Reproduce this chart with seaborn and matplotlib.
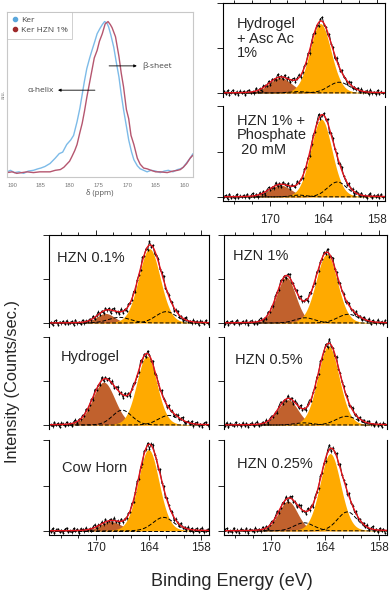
import numpy as np
import matplotlib
matplotlib.use("Agg")
import matplotlib.pyplot as plt
from matplotlib.lines import Line2D
from matplotlib.ticker import FixedLocator
import seaborn as sns

sns.set_style("ticks")
plt.rcParams["font.family"] = ["Liberation Sans", "DejaVu Sans"]

# ---- 13C NMR inset (carbonyl region) ----
ppm_ker = [190.9, 190.3, 189.6, 188.8, 188.0, 187.2, 186.3, 185.5, 185.0, 184.3,
           183.4, 182.5, 181.8, 181.2, 180.5, 179.8, 179.3, 178.7, 178.2, 177.8,
           177.4, 177.0, 176.5, 176.1, 175.6, 175.2, 174.7, 174.3, 173.9, 173.5,
           173.2, 172.8, 172.3, 171.9, 171.4, 171.0, 170.6, 170.1, 169.7, 169.2,
           168.8, 168.2, 167.7, 167.1, 166.5, 165.8, 165.0, 164.2, 163.5, 162.8,
           162.0, 161.2, 160.7, 160.2, 159.6, 159.0, 158.5]
au_ker = [0.01, 0.02, 0.005, 0.01, 0.0, 0.015, 0.02, 0.03, 0.035, 0.045,
          0.065, 0.10, 0.13, 0.14, 0.19, 0.22, 0.25, 0.34, 0.43, 0.52,
          0.61, 0.69, 0.76, 0.81, 0.87, 0.92, 0.955, 0.98, 1.0, 0.99,
          0.965, 0.91, 0.83, 0.74, 0.635, 0.52, 0.42, 0.31, 0.22, 0.14,
          0.09, 0.05, 0.03, 0.02, 0.01, 0.02, 0.015, 0.005, 0.015, 0.02,
          0.01, 0.025, 0.03, 0.04, 0.07, 0.10, 0.13]
ppm_hzn = [190.9, 190.0, 189.2, 188.3, 187.4, 186.3, 185.2, 184.3, 183.4, 182.5,
           181.6, 181.0, 180.5, 180.0, 179.6, 179.1, 178.7, 178.2, 177.8, 177.4,
           177.0, 176.6, 176.1, 175.7, 175.2, 174.8, 174.3, 173.8, 173.3, 172.9,
           172.6, 172.0, 171.4, 171.0, 170.6, 170.1, 169.7, 169.3, 168.8, 168.2,
           167.7, 167.1, 166.5, 165.8, 165.0, 164.2, 163.0, 162.0, 161.2, 160.7,
           160.2, 159.6, 159.0, 158.5]
au_hzn = [0.005, 0.01, 0.0, 0.005, 0.01, 0.005, 0.01, 0.01, 0.01, 0.02,
          0.025, 0.04, 0.06, 0.08, 0.11, 0.15, 0.19, 0.27, 0.33, 0.41,
          0.50, 0.58, 0.68, 0.76, 0.81, 0.87, 0.92, 0.985, 1.0, 0.98,
          0.96, 0.90, 0.77, 0.66, 0.57, 0.42, 0.36, 0.25, 0.19, 0.10,
          0.06, 0.035, 0.03, 0.02, 0.01, 0.01, 0.005, 0.015, 0.02, 0.025,
          0.04, 0.065, 0.10, 0.12]
nmr_ticks = [190, 185, 180, 175, 170, 165, 160]

# ---- S 2p XPS fits, one entry per panel ----
panel_names = ["Hydrogel\n+ Asc Ac\n1%", "HZN 1% +\nPhosphate\n 20 mM",
               "HZN 0.1%", "Hydrogel", "Cow Horn",
               "HZN 1%", "HZN 0.5%", "HZN 0.25%"]
# brown filled component
brown_c = [168.8, 168.8, 168.9, 169.1, 168.3, 168.3, 168.1, 168.1]
brown_h = [0.34, 0.26, 0.22, 0.98, 0.21, 1.05, 0.58, 0.66]
brown_w = [3.0, 2.9, 2.4, 3.0, 2.8, 2.5, 2.6, 2.5]
# dashed component between the two filled peaks
mid_c = [166.8, 166.7, 167.3, 167.0, 166.5, 166.2, 166.3, 166.3]
mid_h = [0.03, 0.04, 0.13, 0.34, 0.0, 0.12, 0.05, 0.18]
mid_w = [2.2, 2.2, 3.0, 2.6, 2.2, 2.6, 2.4, 2.6]
# orange filled main component
main_c = [164.3, 164.2, 163.9, 164.2, 164.0, 163.8, 163.6, 163.4]
main_h = [1.55, 1.72, 1.70, 1.58, 1.80, 1.57, 1.81, 1.71]
main_w = [2.8, 2.8, 2.9, 2.7, 2.8, 2.8, 2.8, 2.7]
# dashed low-energy component
low_c = [162.2, 162.4, 162.0, 161.7, 162.3, 161.4, 161.6, 161.5]
low_h = [0.24, 0.33, 0.26, 0.22, 0.30, 0.20, 0.20, 0.42]
low_w = [2.8, 2.6, 2.8, 2.8, 2.8, 2.8, 2.8, 2.6]

resid = [0.03, -0.02, 0.05, -0.04, 0.01, 0.06, -0.03, 0.02, -0.05, 0.04,
         -0.01, 0.03, -0.06, 0.02, 0.05, -0.02, 0.00, -0.04, 0.06, -0.03,
         0.02, -0.05, 0.04, 0.01, -0.02, 0.05, -0.06, 0.03, 0.00, -0.03,
         0.06, -0.01, 0.02, -0.04, 0.05, -0.02, 0.03, -0.05, 0.01, 0.04,
         -0.03, 0.02, 0.06, -0.04, -0.01, 0.03, -0.02, 0.05, -0.06, 0.02,
         0.04, -0.03, 0.01, -0.05, 0.03, 0.06, -0.02, 0.00, -0.04, 0.05,
         -0.01, 0.03, -0.06, 0.04, 0.02, -0.03, 0.05, -0.02, 0.01, -0.05,
         0.03, 0.06, -0.04, 0.02, -0.01, 0.04, -0.03, 0.05, -0.02, 0.00,
         0.03, -0.05, 0.06, -0.02, 0.01, -0.04, 0.05, -0.03, 0.02, -0.01]

BROWN = "#c1612d"
ORANGE = "#ffaa00"
FIT_RED = "#e3131b"

W, H = 392, 593
fig = plt.figure(figsize=(W / 100, H / 100), dpi=100)


def add_ax(l, t, r, b):
    return fig.add_axes([l / W, 1 - b / H, (r - l) / W, (b - t) / H])


def gl(x, c, h, w, m=0.1):
    d = (x - c) / w
    return h * ((1 - m) * np.exp(-4 * np.log(2) * d ** 2) + m / (1 + 4 * d ** 2))


# ---- NMR inset ----
ax = add_ax(7, 12, 193, 177)
sns.lineplot(x=ppm_ker, y=au_ker, ax=ax, color="#7dbbe8", lw=1.0)
sns.lineplot(x=ppm_hzn, y=au_hzn, ax=ax, color="#b5566f", lw=1.0)
ax.set_xlim(190.9, 158.5)
ax.set_ylim(-0.024, 1.063)
ax.set_xticks(nmr_ticks)
ax.set_xticklabels([str(t) for t in nmr_ticks])
ax.set_yticks([])
ax.tick_params(axis="x", length=0, labelsize=4.2, labelcolor="#777777", pad=4)
for s in ax.spines.values():
    s.set_color("#c8c8c8")
    s.set_linewidth(0.8)
ax.set_xlabel("δ (ppm)", fontsize=5.5, color="#555555", labelpad=1,
              family=["Open Sans", "DejaVu Sans"])
ax.set_ylabel("a.u.", fontsize=4, color="#777777", labelpad=1)
ax.annotate("", xy=(167.8, 0.708), xytext=(173.6, 0.708),
            arrowprops=dict(arrowstyle="-|>", lw=0.6, color="k", mutation_scale=4))
ax.text(167.4, 0.708, "β-sheet", fontsize=6, color="#444444", va="center", ha="left",
        family=["Open Sans", "DejaVu Sans"])
ax.annotate("", xy=(182.5, 0.548), xytext=(175.1, 0.548),
            arrowprops=dict(arrowstyle="-|>", lw=0.6, color="k", mutation_scale=4))
ax.text(182.8, 0.548, "α-helix", fontsize=6, color="#444444", va="center", ha="right",
        family=["Open Sans", "DejaVu Sans"])
handles = [Line2D([], [], ls="", marker="o", ms=3, color="#5aa7dc", label="Ker"),
           Line2D([], [], ls="", marker="o", ms=3, color="#9e2a2b", label="Ker HZN 1%")]
leg = ax.legend(handles=handles, loc="upper left", borderaxespad=0, fancybox=False,
                prop={"size": 6, "family": ["Open Sans", "DejaVu Sans"]},
                handletextpad=0.2, handlelength=1.0, borderpad=0.5, labelspacing=0.3)
leg.get_frame().set_edgecolor("#bbbbbb")
leg.get_frame().set_linewidth(0.6)
for t in leg.get_texts():
    t.set_color("#444444")

# ---- XPS panels ----
xfit = np.linspace(175.3, 157.0, 400)
xdat = np.linspace(175.1, 157.3, 90)
boxes = [(222.7, 3, 384.7, 97), (222.7, 106, 384.7, 201),
         (49.5, 235, 209.3, 327), (49.5, 337, 209.3, 429), (49.5, 440, 209.3, 535),
         (223.5, 235, 387, 327), (223.5, 337, 387, 429), (223.5, 440, 387, 535)]
roles = ["top", "bottom", "top", "mid", "bottom", "top", "mid", "bottom"]
label_pos = [(0.086, 0.85), (0.086, 0.92), (0.045, 0.83), (0.07, 0.86),
             (0.076, 0.78), (0.06, 0.85), (0.07, 0.83), (0.085, 0.82)]

for i, box in enumerate(boxes):
    ax = add_ax(*box)
    b = gl(xfit, brown_c[i], brown_h[i], brown_w[i])
    m = gl(xfit, mid_c[i], mid_h[i], mid_w[i])
    o = gl(xfit, main_c[i], main_h[i], main_w[i])
    lo = gl(xfit, low_c[i], low_h[i], low_w[i])
    total = b + m + o + lo
    ax.fill_between(xfit, 0, b, color=BROWN, lw=0)
    ax.fill_between(xfit, 0, o, color=ORANGE, lw=0)
    for comp in (m, lo):
        sns.lineplot(x=xfit, y=comp, ax=ax, color="k", lw=0.7, linestyle=(0, (4, 2)))

    fd = (gl(xdat, brown_c[i], brown_h[i], brown_w[i]) + gl(xdat, mid_c[i], mid_h[i], mid_w[i])
          + gl(xdat, main_c[i], main_h[i], main_w[i]) + gl(xdat, low_c[i], low_h[i], low_w[i]))
    ydat = fd + np.roll(resid, 11 * i) * (1 + 0.35 * fd)
    ax.errorbar(xdat, ydat, yerr=0.03, fmt="none", ecolor="k", elinewidth=0.45)
    sns.lineplot(x=xdat, y=ydat, ax=ax, color="k", lw=0.6, marker="o", ms=1.3, mew=0)
    sns.lineplot(x=xfit, y=total, ax=ax, color=FIT_RED, lw=1.0)

    ax.set_xlim(175.25, 157.1)
    ax.set_ylim(-0.09, 2.01)
    ax.set_yticks([0, 1, 2])
    ax.set_yticklabels([])
    ax.tick_params(axis="y", direction="out", length=4.5, width=0.7, left=True, right=False)
    ax.xaxis.set_major_locator(FixedLocator([170, 164, 158]))
    ax.xaxis.set_minor_locator(FixedLocator([174, 172, 168, 166, 162, 160]))
    for s in ax.spines.values():
        s.set_linewidth(0.8)
        s.set_color("k")
    role = roles[i]
    ax.spines["top"].set_visible(role == "top")
    ax.spines["bottom"].set_visible(role == "bottom")
    if role == "top":
        ax.tick_params(axis="x", which="both", direction="out", bottom=False, top=True,
                       labelbottom=False, labeltop=False, width=0.7)
    elif role == "bottom":
        ax.tick_params(axis="x", which="both", direction="out", bottom=True, top=False,
                       labelbottom=True, labelsize=8.5, width=0.7)
    else:
        ax.tick_params(axis="x", which="both", bottom=False, top=False, labelbottom=False)
    ax.tick_params(axis="x", which="major", length=3.5, pad=6 if i == 1 else 1.5)
    ax.tick_params(axis="x", which="minor", length=2.2)
    ax.set_xlabel("")
    ax.set_ylabel("")
    ax.text(label_pos[i][0], label_pos[i][1], panel_names[i], transform=ax.transAxes,
            fontsize=10.5, ha="left", va="top", linespacing=1.05)

fig.text(13 / W, 1 - 381.5 / H, "Intensity (Counts/sec.)", rotation=90,
         ha="center", va="center", fontsize=11.8)
fig.text(231.7 / W, 1 - 582 / H, "Binding Energy (eV)", ha="center", va="center",
         fontsize=13)

fig.savefig("out.png", dpi=100)
